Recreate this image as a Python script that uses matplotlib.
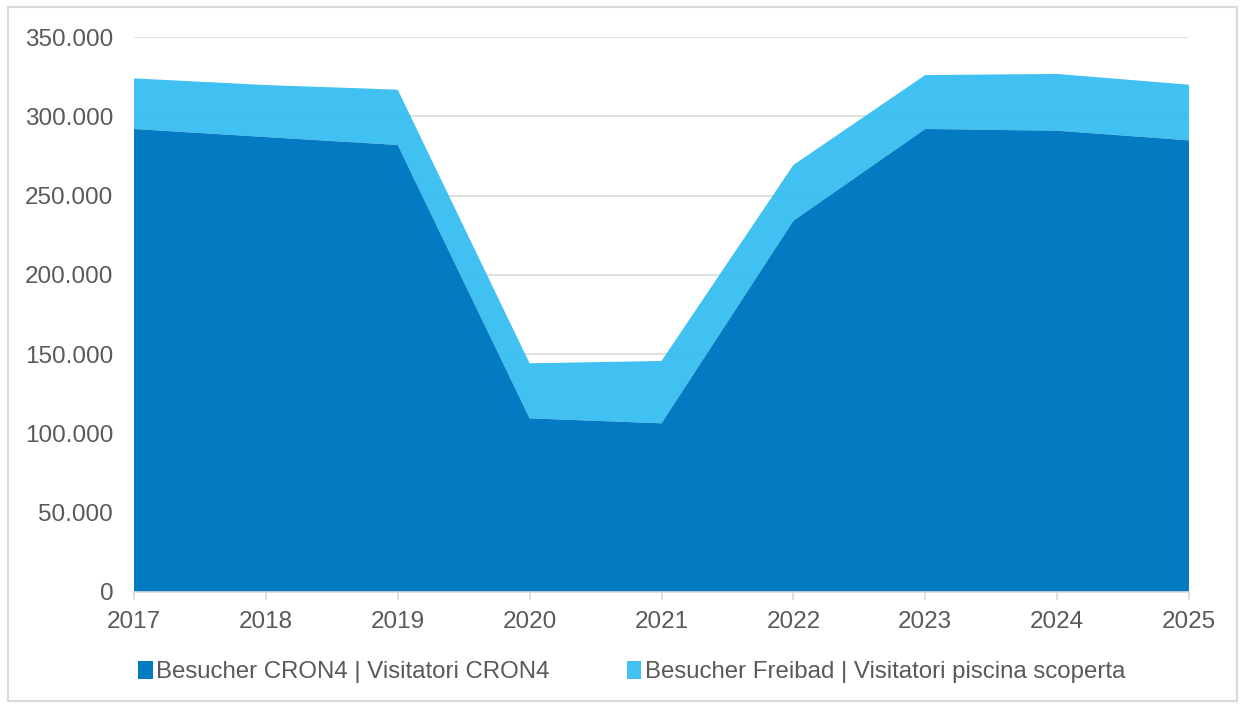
import matplotlib.pyplot as plt
from matplotlib.patches import Rectangle
from matplotlib.ticker import FuncFormatter

plt.rcParams['font.family'] = ['Liberation Sans', 'DejaVu Sans']

# Data
years = [2017, 2018, 2019, 2020, 2021, 2022, 2023, 2024, 2025]
cron4 = [292000, 286900, 281900, 109500, 106400, 234100, 292000, 290900, 284800]
freibad = [31900, 32800, 34900, 34700, 39300, 35200, 34000, 35800, 35100]
labels = ['Besucher CRON4 | Visitatori CRON4',
          'Besucher Freibad | Visitatori piscina scoperta']

dark = '#037BC3'
light = '#36BEF1'
grey_text = '#595959'
grid_col = '#D9D9D9'

fig = plt.figure(figsize=(12.41, 7.04), dpi=100)
ax = fig.add_axes([134 / 1241, 1 - 592 / 704, (1189 - 134) / 1241, (592 - 37) / 704])

ax.stackplot(years, cron4, freibad, colors=[dark, light], labels=labels,
             alpha=1.0, zorder=2)
# light series slightly transparent so gridlines show through like the original
ax.collections[1].set_alpha(0.95)
ax.collections[1].set_zorder(3)
ax.collections[0].set_zorder(4)

ax.set_xlim(2017, 2025)
ax.set_ylim(0, 350000)
ax.set_xticks(years)
ax.set_yticks(range(0, 350001, 50000))
ax.yaxis.set_major_formatter(FuncFormatter(lambda v, p: f'{int(v):,}'.replace(',', '.')))

ax.grid(axis='y', color=grid_col, linewidth=1.2, zorder=1)
for s in ['top', 'right', 'left']:
    ax.spines[s].set_visible(False)
ax.spines['bottom'].set_color(grid_col)
ax.spines['bottom'].set_linewidth(1.2)
ax.spines['bottom'].set_zorder(5)
ax.tick_params(axis='y', length=0, labelsize=17.5, labelcolor=grey_text, pad=15)
ax.tick_params(axis='x', length=6, color=grid_col, width=1.2, labelsize=17.5,
               labelcolor=grey_text, pad=8)

leg = fig.legend(loc='center', bbox_to_anchor=(0.5 + 11 / 1241, 1 - 672 / 704), ncol=2,
                 frameon=False, fontsize=17.3, labelcolor=grey_text,
                 handlelength=0.6, handleheight=0.8, handletextpad=0.15,
                 columnspacing=3.2)

# thin border around the whole chart
fig.patches.append(Rectangle((8 / 1241, 3 / 704), 1 - 12 / 1241, 1 - 10 / 704,
                             transform=fig.transFigure, fill=False,
                             edgecolor=grid_col, linewidth=1.5))

plt.savefig('out.png', dpi=100)
